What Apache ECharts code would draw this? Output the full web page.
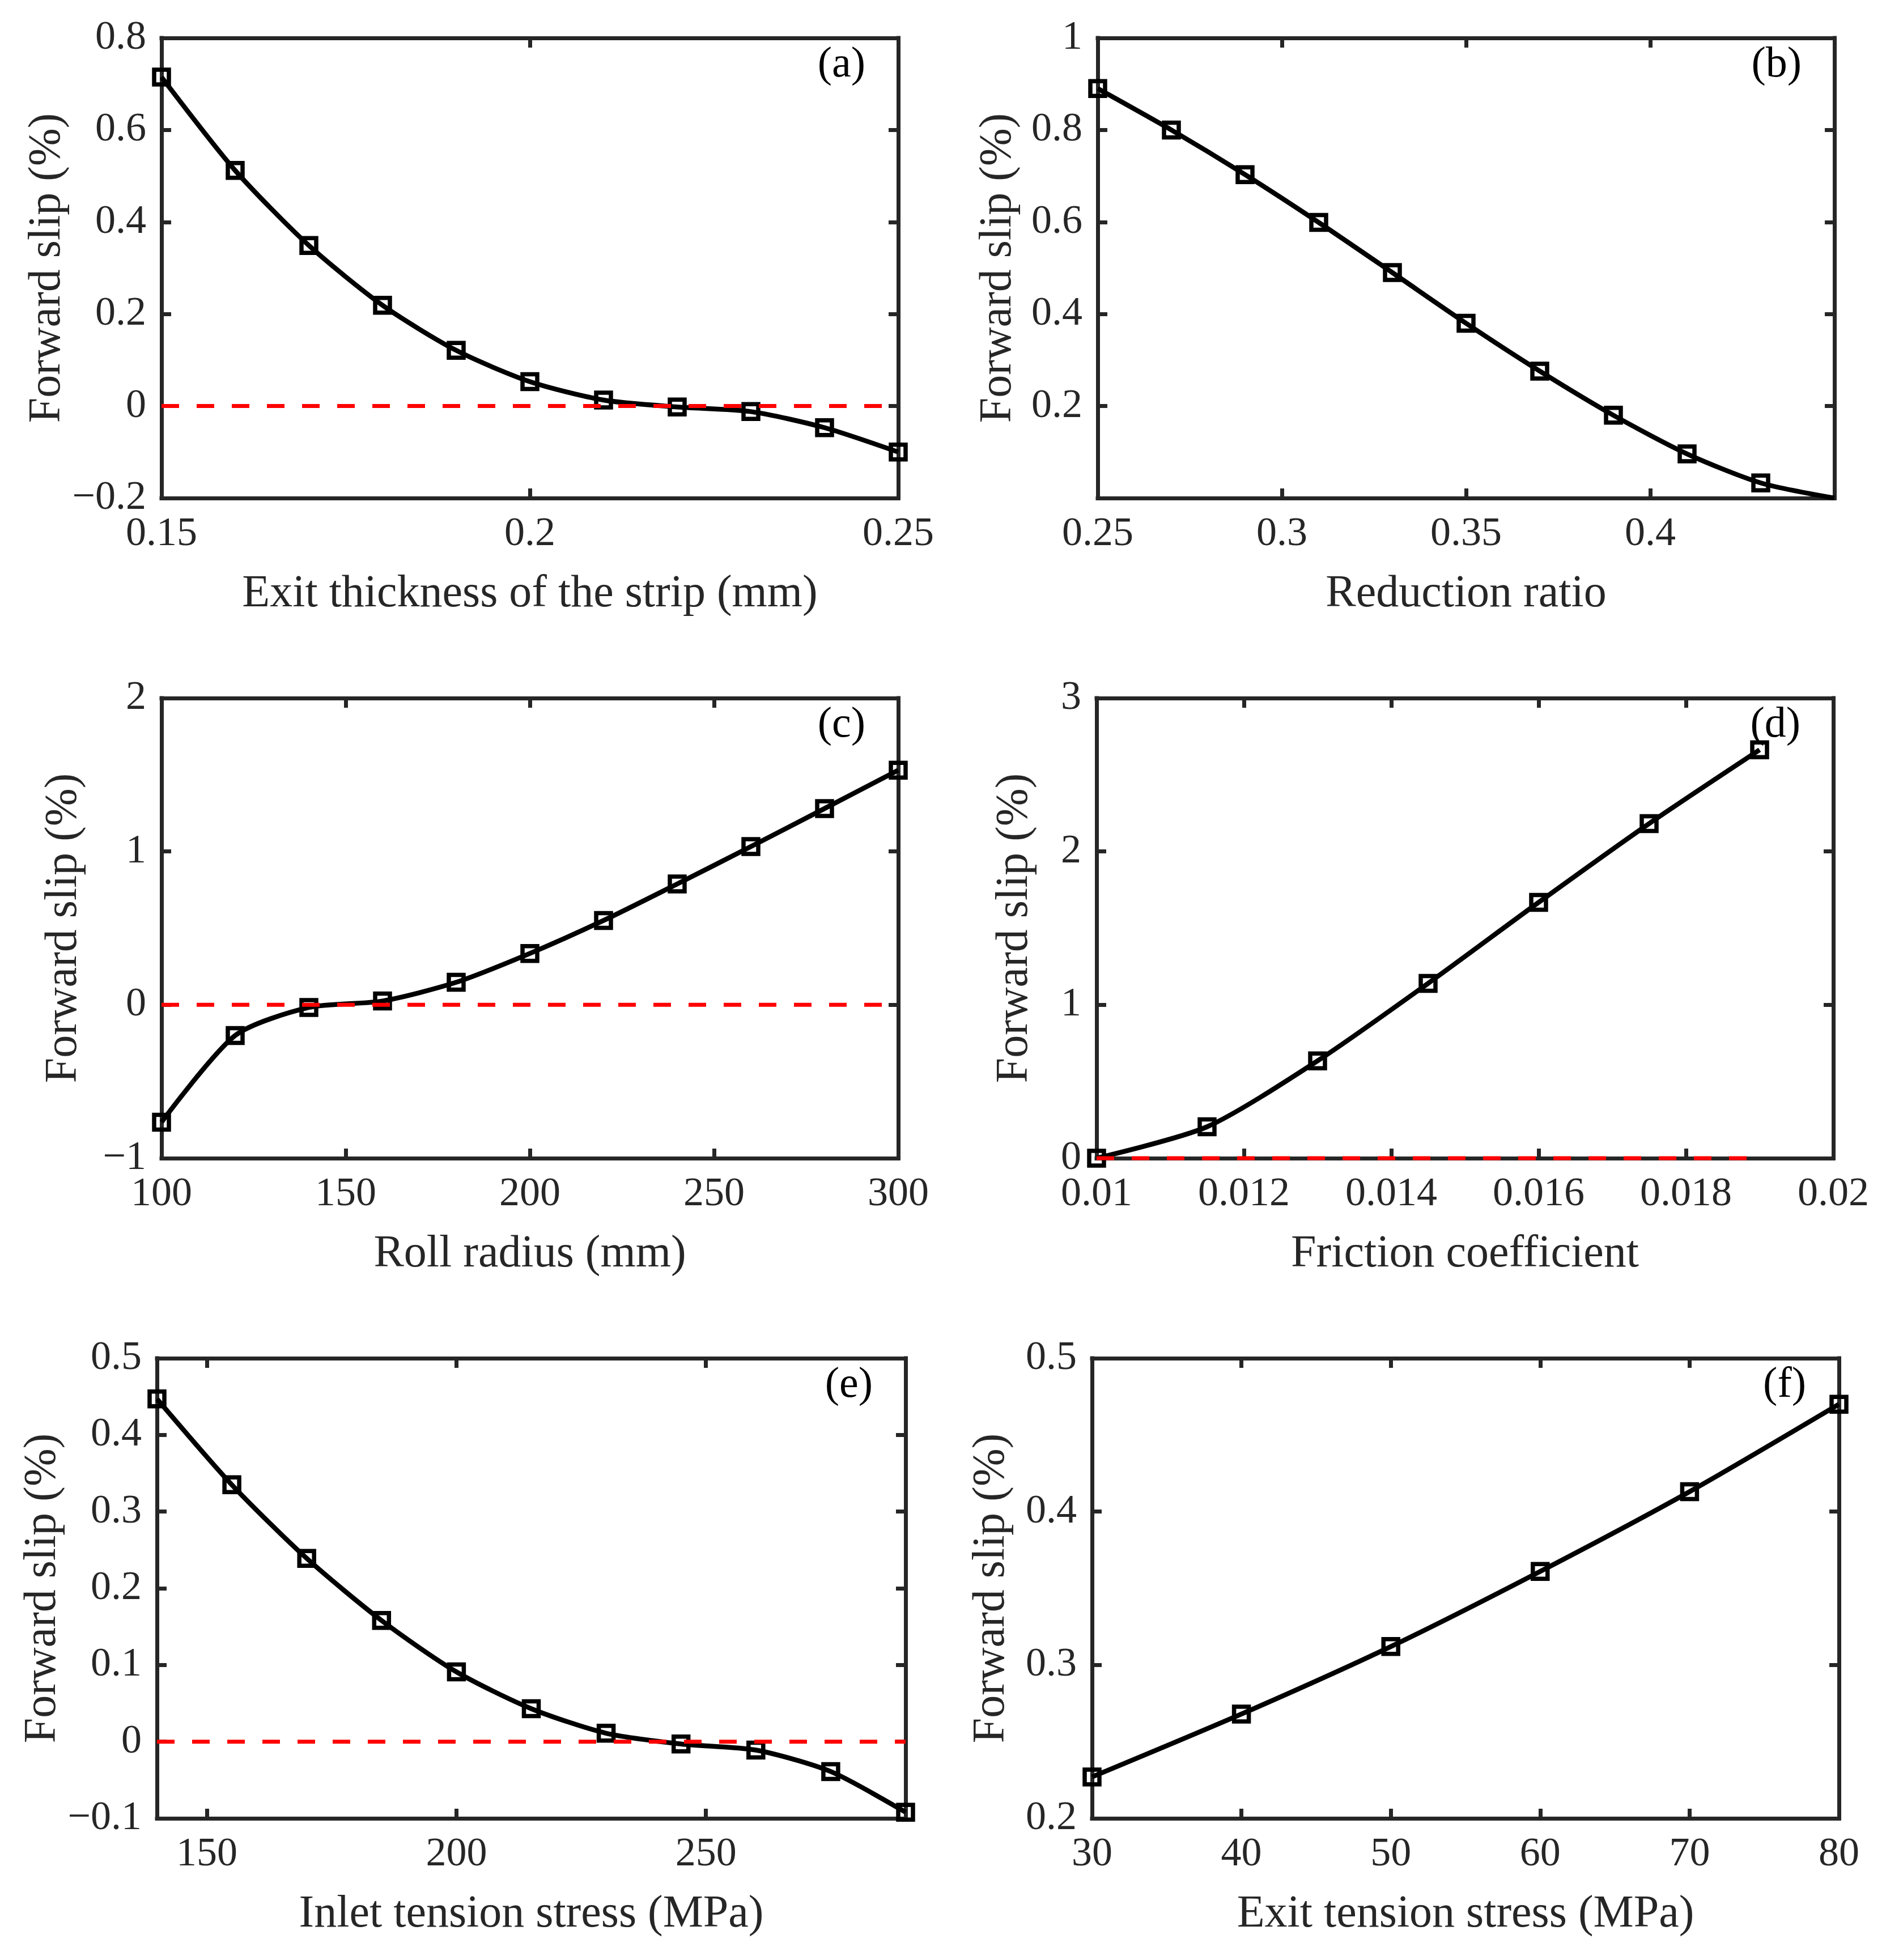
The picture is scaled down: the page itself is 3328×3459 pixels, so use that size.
<!DOCTYPE html>
<html><head><meta charset="utf-8">
<script src="https://cdn.jsdelivr.net/npm/echarts@6/dist/echarts.min.js"></script>
<style>html,body{margin:0;padding:0;background:#fff}#c{width:3328px;height:3459px}</style>
</head><body><div id="c"></div>
<script>
// ---- data ----
const xA=[0.15,0.16,0.17,0.18,0.19,0.20,0.21,0.22,0.23,0.24,0.25];
const yA=[0.715,0.512,0.349,0.219,0.121,0.053,0.013,-0.002,-0.012,-0.047,-0.100];
const xB=[0.25,0.27,0.29,0.31,0.33,0.35,0.37,0.39,0.41,0.43,0.45];
const yB=[0.890,0.800,0.703,0.599,0.490,0.380,0.276,0.180,0.096,0.033,0.000];
const xC=[100,120,140,160,180,200,220,240,260,280,300];
const yC=[-0.765,-0.200,-0.017,0.025,0.147,0.335,0.550,0.788,1.032,1.280,1.530];
const xD=[0.01,0.0115,0.013,0.0145,0.016,0.0175,0.019];
const yD=[0.000,0.205,0.635,1.140,1.668,2.182,2.663];
const xE=[140,155,170,185,200,215,230,245,260,275,290];
const yE=[0.447,0.335,0.239,0.158,0.091,0.043,0.011,-0.003,-0.011,-0.039,-0.092];
const xF=[30,40,50,60,70,80];
const yF=[0.227,0.268,0.312,0.361,0.413,0.470];
const xNames=['Exit thickness of the strip (mm)','Reduction ratio','Roll radius (mm)','Friction coefficient','Inlet tension stress (MPa)','Exit tension stress (MPa)'];
const yName='Forward slip (%)';
const panelLabels=['(a)','(b)','(c)','(d)','(e)','(f)'];
const xRanges=[[0.15,0.25,0.05],[0.25,0.45,0.05],[100,300,50],[0.01,0.02,0.002],[140,290,null],[30,80,10]];
const yRanges=[[-0.2,0.8,0.2],[0,1,0.2],[-1,2,1],[0,3,1],[-0.1,0.5,0.1],[0.2,0.5,0.1]];
const refLine=[true,false,true,true,true,false];
const noMarkerLast=[false,true,false,false,false,false];
// ---- layout / style ----
const boxes=[[285,67,1585,879],[1937,67,3237,879],[285,1232,1585,2044],[1935,1232,3235,2044],[277,2397,1598,3209],[1927,2397,3245,3209]];
const yNameGaps=[158,135,132,104,156,137];
const hideXMin=[false,false,false,false,true,false];
const hideXMax=[false,true,false,false,true,false];
const hideYMin=[false,true,false,false,false,false];
const FONT="'Liberation Serif','Times New Roman',serif";
const AX='#262626';
const fmt=v=>String(+(+v).toFixed(6)).replace('-','\u2212');
const xsAll=[xA,xB,xC,xD,xE,xF], ysAll=[yA,yB,yC,yD,yE,yF];

const grids=[],xAxes=[],yAxes=[],series=[],graphics=[];
for(let i=0;i<6;i++){
  const [L,T,R,B]=boxes[i];
  grids.push({left:L,top:T,width:R-L,height:B-T,containLabel:false});
  const axLine={show:true,onZero:false,lineStyle:{color:AX,width:7,cap:'square'}};
  const axTick={show:true,inside:true,length:17,lineStyle:{color:AX,width:7}};
  const [x0,x1,xi]=xRanges[i];
  const xc={type:'value',gridIndex:i,min:x0,max:x1,splitLine:{show:false},axisLine:axLine,axisTick:axTick};
  if(xi) xc.interval=xi; else xc.splitNumber=3;
  xAxes.push(Object.assign({},xc,{position:'bottom',
    axisLabel:{show:true,margin:28,fontFamily:FONT,fontSize:72,color:AX,formatter:fmt,showMinLabel:!hideXMin[i],showMaxLabel:!hideXMax[i]},
    name:xNames[i],nameLocation:'middle',nameGap:130,nameTextStyle:{fontFamily:FONT,fontSize:80,color:AX}}));
  xAxes.push(Object.assign({},xc,{position:'top',axisLabel:{show:false}}));
  const [y0,y1,yi]=yRanges[i];
  const yc={type:'value',gridIndex:i,min:y0,max:y1,interval:yi,splitLine:{show:false},axisLine:axLine,axisTick:axTick};
  yAxes.push(Object.assign({},yc,{position:'left',
    axisLabel:{show:true,margin:27,fontFamily:FONT,fontSize:72,color:AX,formatter:fmt,showMinLabel:!hideYMin[i]},
    name:yName,nameLocation:'middle',nameGap:yNameGaps[i],nameTextStyle:{fontFamily:FONT,fontSize:80,color:AX}}));
  yAxes.push(Object.assign({},yc,{position:'right',axisLabel:{show:false}}));
  const xs=xsAll[i], ys=ysAll[i];
  const data=xs.map((x,j)=>{
    if(noMarkerLast[i]&&j===xs.length-1) return {value:[x,ys[j]],symbol:'none'};
    return [x,ys[j]];
  });
  series.push({type:'line',xAxisIndex:2*i,yAxisIndex:2*i,data:data,symbol:'rect',symbolSize:26,smooth:0.25,
    lineStyle:{color:'#000',width:8.5},itemStyle:{color:'rgba(0,0,0,0)',borderColor:'#000',borderWidth:7.5},z:3});
  if(refLine[i]){
    series.push({type:'line',xAxisIndex:2*i,yAxisIndex:2*i,data:[[xs[0],0],[xs[xs.length-1],0]],symbol:'none',clip:false,
      lineStyle:{color:'#ff0000',width:7,type:[31,31]},z:4});
  }
  graphics.push({type:'text',right:3328-(R-58),top:T+10,style:{text:panelLabels[i],fontFamily:FONT,fontSize:76,fill:'#000',textAlign:'right'}});
}
const chart=echarts.init(document.getElementById('c'),null,{renderer:'canvas',width:3328,height:3459});
chart.setOption({animation:false,backgroundColor:'#fff',textStyle:{fontFamily:FONT},grid:grids,xAxis:xAxes,yAxis:yAxes,series:series,graphic:graphics});
</script></body></html>
